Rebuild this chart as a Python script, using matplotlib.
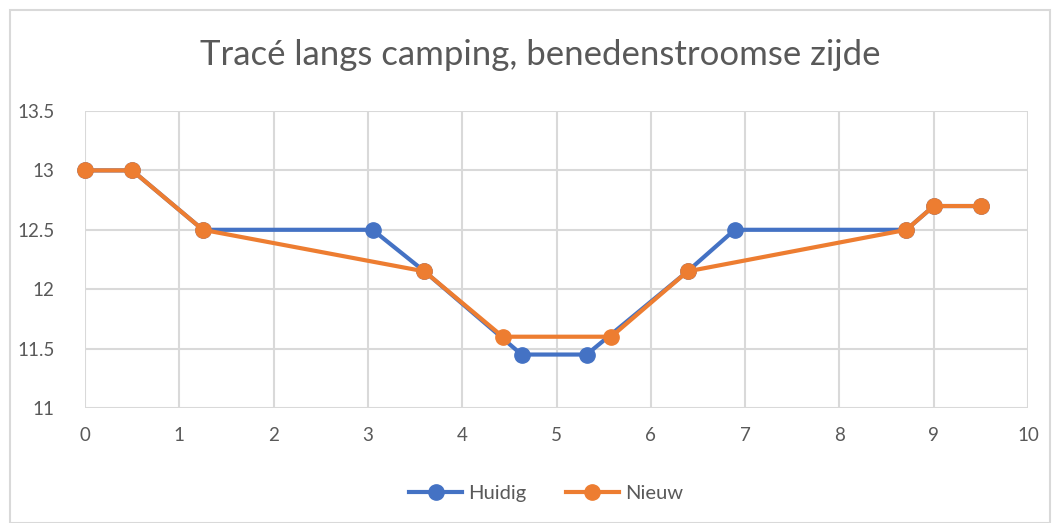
import matplotlib.pyplot as plt
from matplotlib.patches import Rectangle

# Data
huidig_x = [0, 0.5, 1.25, 3.05, 3.6, 4.63, 5.32, 6.39, 6.89, 8.71, 9.0, 9.5]
huidig_y = [13, 13, 12.5, 12.5, 12.15, 11.45, 11.45, 12.15, 12.5, 12.5, 12.7, 12.7]
nieuw_x = [0, 0.5, 1.25, 3.6, 4.43, 5.58, 6.39, 8.71, 9.0, 9.5]
nieuw_y = [13, 13, 12.5, 12.15, 11.6, 11.6, 12.15, 12.5, 12.7, 12.7]
series_names = ["Huidig", "Nieuw"]
x_ticks = list(range(0, 11))
y_ticks = [11, 11.5, 12, 12.5, 13, 13.5]
y_labels = ["11", "11.5", "12", "12.5", "13", "13.5"]
title = "Tracé langs camping, benedenstroomse zijde"

BLUE = "#4472C4"
ORANGE = "#ED7D31"
GRID = "#D9D9D9"
TEXT = "#595959"

plt.rcParams["font.family"] = ["Lato", "DejaVu Sans"]

W, H = 1058, 523
fig = plt.figure(figsize=(W / 100, H / 100), dpi=100)
ax = fig.add_axes([85 / W, 1 - 408 / H, (1028 - 85) / W, (408 - 111) / H])

# chart border
fig.patches.append(Rectangle((10 / W, 0), (1050 - 10) / W, 1 - 10 / H,
                             transform=fig.transFigure, fill=False,
                             edgecolor=GRID, linewidth=1.5))

ax.plot(huidig_x, huidig_y, color=BLUE, linewidth=3, marker="o",
        markersize=11, label=series_names[0], zorder=3, clip_on=False)
ax.plot(nieuw_x, nieuw_y, color=ORANGE, linewidth=3, marker="o",
        markersize=11, label=series_names[1], zorder=4, clip_on=False)

ax.set_xlim(0, 10)
ax.set_ylim(11, 13.5)
ax.set_xticks(x_ticks)
ax.set_yticks(y_ticks)
ax.set_yticklabels(y_labels)
ax.grid(True, color=GRID, linewidth=1.5)
ax.set_axisbelow(True)
for s in ax.spines.values():
    s.set_visible(False)
ax.tick_params(length=0, labelsize=13.5, labelcolor=TEXT, pad=14)
ax.tick_params(axis="y", pad=22)

fig.text(540 / W, 1 - 55 / H, title, ha="center", va="center",
         fontsize=25, color=TEXT, fontweight="normal")

fig.legend(loc="center", bbox_to_anchor=(546 / W, 1 - 493 / H), ncol=2,
           frameon=False, fontsize=14.5, labelcolor=TEXT, handlelength=2.6,
           columnspacing=2.0, handletextpad=0.3)

fig.savefig("out.png", dpi=100)
